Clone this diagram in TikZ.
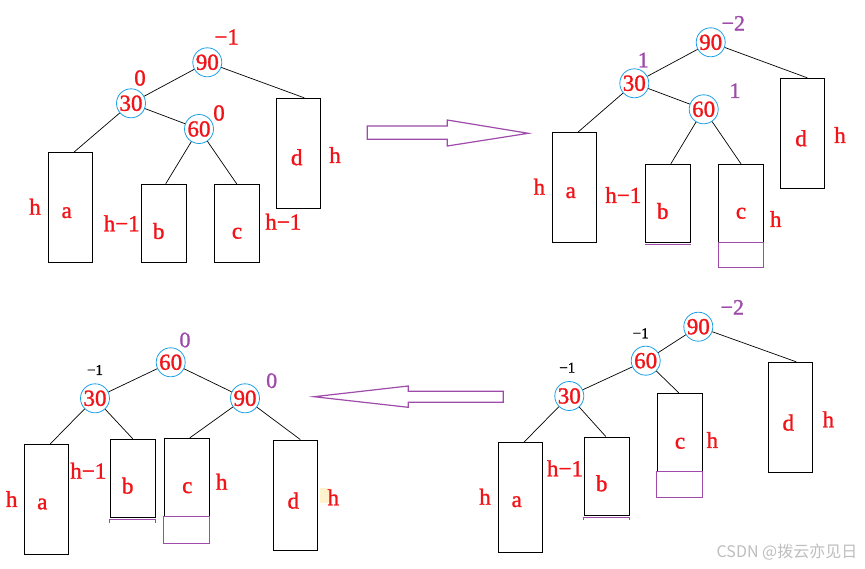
\documentclass[tikz,border=0pt]{standalone}
\usepackage{fontspec}
\setmainfont{Liberation Serif}
\newfontfamily\myheavy[FakeBold=1.2]{Liberation Serif}
\newfontfamily\mycjk{Noto Sans CJK SC}
\usetikzlibrary{calc}
\definecolor{myred}{RGB}{240,20,25}
\definecolor{mypurp}{RGB}{158,75,170}
\definecolor{myblue}{RGB}{30,160,230}
\definecolor{mygray}{RGB}{190,190,190}
\definecolor{myyel}{RGB}{255,243,205}
\newcommand\myBig{\myheavy\fontsize{23}{23}\selectfont}
\newcommand\myMid{\myheavy\fontsize{22}{22}\selectfont}
\newcommand\mySmall{\myheavy\fontsize{15}{15}\selectfont}
\tikzset{
  cnode/.style={circle, draw=myblue, line width=0.8pt, text=myred, inner sep=0pt,
    minimum size=29pt, text height=15pt, text depth=0pt, font=\myBig},
  tallbox/.style={draw=black, line width=0.9pt, inner sep=0pt, minimum width=44pt, minimum height=110pt},
  shortbox/.style={draw=black, line width=0.9pt, inner sep=0pt, minimum width=45pt, minimum height=78pt},
  lbl/.style={text=myred, inner sep=0pt, font=\myBig},
  bfred/.style={text=myred, inner sep=0pt, font=\myBig},
  bfpurp/.style={text=mypurp, inner sep=0pt, font=\myMid},
  bfblack/.style={text=black, inner sep=0pt, font=\mySmall},
  conn/.style={draw=black, line width=0.7pt},
  pline/.style={draw=mypurp, line width=1pt},
  bigarrow/.style={draw=mypurp, line width=1.2pt, line join=miter}
}
\begin{document}
\begin{tikzpicture}[x=1pt,y=-1pt]
\fill[white] (0,0) rectangle (865,568);
\useasboundingbox (0,0) rectangle (865,568);

% ---------------- Panel 1 (top-left)
\node[cnode] (p1n90) at (207.3,62.3) {90};
\node[cnode] (p1n30) at (131,103.3) {30};
\node[cnode] (p1n60) at (199,129) {60};
\node[tallbox] (p1a) at (70.3,207.3) {};
\node[shortbox] (p1b) at (163.7,223.3) {};
\node[shortbox] (p1c) at (236.7,223.3) {};
\node[tallbox] (p1d) at (298.3,153.3) {};
\draw[conn] (p1n90) -- (p1n30);
\draw[conn] (p1n90) -- ([xshift=6pt]p1d.north);
\draw[conn] (p1n30) -- ([xshift=4pt]p1a.north);
\draw[conn] (p1n30) -- (p1n60);
\draw[conn] (p1n60) -- ([xshift=2pt]p1b.north);
\draw[conn] (p1n60) -- (p1c.north);
\node[bfred] (p1f90) at (226.7,37) {−1};
\node[bfred] (p1f30) at (140,78) {0};
\node[bfred] (p1f60) at (219,113) {0};
\node[lbl] (p1ha) at (35,206.7) {h};
\node[lbl] (p1la) at (66.7,212.7) {a};
\node[lbl] (p1hb) at (121.7,223.3) {h−1};
\node[lbl] (p1lb) at (158.7,231) {b};
\node[lbl] (p1lc) at (237,233.3) {c};
\node[lbl] (p1hc) at (283.3,221.7) {h−1};
\node[lbl] (p1ld) at (296.7,157.3) {d};
\node[lbl] (p1hd) at (335,155) {h};

% ---------------- Panel 2 (top-right)
\node[cnode] (p2n90) at (710.7,42.3) {90};
\node[cnode] (p2n30) at (634.3,83.3) {30};
\node[cnode] (p2n60) at (703.7,109.3) {60};
\node[tallbox] (p2a) at (574.3,187.3) {};
\node[shortbox] (p2b) at (667.8,203.3) {};
\node[shortbox] (p2c) at (741,203.3) {};
\node[tallbox] (p2d) at (802.3,133.3) {};
\draw[conn] (p2n90) -- (p2n30);
\draw[conn] (p2n90) -- ([xshift=5pt]p2d.north);
\draw[conn] (p2n30) -- ([xshift=4pt]p2a.north);
\draw[conn] (p2n30) -- (p2n60);
\draw[conn] (p2n60) -- ([xshift=3pt]p2b.north);
\draw[conn] (p2n60) -- (p2c.north);
\draw[pline] ([yshift=-1.5pt]p2b.south west) -- ([yshift=-1.5pt]p2b.south east);
\draw[pline] (p2c.south west) rectangle ([yshift=-25pt]p2c.south east);
\node[bfpurp] (p2f90) at (733.3,23.3) {−2};
\node[bfpurp] (p2f30) at (643.3,60) {1};
\node[bfpurp] (p2f60) at (735,90.7) {1};
\node[lbl] (p2ha) at (539.3,186.7) {h};
\node[lbl] (p2la) at (570.7,192.7) {a};
\node[lbl] (p2hb) at (623.3,195) {h−1};
\node[lbl] (p2lb) at (662.7,211) {b};
\node[lbl] (p2lc) at (741,213.3) {c};
\node[lbl] (p2hc) at (775.7,219) {h};
\node[lbl] (p2ld) at (801,138.3) {d};
\node[lbl] (p2hd) at (840,135) {h};

% ---------------- Panel 3 (bottom-left)
\node[cnode] (p3n60) at (170.7,362.3) {60};
\node[cnode] (p3n30) at (95,398.3) {30};
\node[cnode] (p3n90) at (245,398.3) {90};
\node[tallbox] (p3a) at (46.3,499.3) {};
\node[shortbox] (p3b) at (132.8,478.3) {};
\node[shortbox] (p3c) at (186.8,477.3) {};
\node[tallbox] (p3d) at (295.3,495) {};
\draw[conn] (p3n60) -- (p3n30);
\draw[conn] (p3n60) -- (p3n90);
\draw[conn] (p3n30) -- ([xshift=4pt]p3a.north);
\draw[conn] (p3n30) -- (p3b.north);
\draw[conn] (p3n90) -- ([xshift=3pt]p3c.north);
\draw[conn] (p3n90) -- ([xshift=5pt]p3d.north);
\draw[pline] ([yshift=-5pt]p3b.south west) |- ([yshift=-2pt]p3b.south) -| ([yshift=-5pt]p3b.south east);
\draw[pline] (p3c.south west) rectangle ([yshift=-27pt]p3c.south east);
\fill[myyel] (320,487.7) rectangle (330,503.3);
\node[bfpurp] (p3f60) at (185,340) {0};
\node[bfblack] (p3f30) at (95,370) {−1};
\node[bfpurp] (p3f90) at (271.7,380.7) {0};
\node[lbl] (p3ha) at (11.7,499) {h};
\node[lbl] (p3la) at (42.3,504) {a};
\node[lbl] (p3hb) at (88.3,470.7) {h−1};
\node[lbl] (p3lb) at (127.7,485.7) {b};
\node[lbl] (p3lc) at (187.3,487.7) {c};
\node[lbl] (p3hc) at (221.7,481.7) {h};
\node[lbl] (p3ld) at (293.3,500.7) {d};
\node[lbl] (p3hd) at (333.3,497.3) {h};

% ---------------- Panel 4 (bottom-right)
\node[cnode] (p4n90) at (698.3,326.7) {90};
\node[cnode] (p4n60) at (645.7,360.7) {60};
\node[cnode] (p4n30) at (569.3,396) {30};
\node[tallbox] (p4a) at (520.3,497.3) {};
\node[shortbox] (p4b) at (606.8,476) {};
\node[shortbox] (p4c) at (679.8,432.3) {};
\node[tallbox] (p4d) at (790.3,417.3) {};
\draw[conn] (p4n90) -- (p4n60);
\draw[conn] (p4n90) -- ([xshift=6pt]p4d.north);
\draw[conn] (p4n60) -- (p4n30);
\draw[conn] (p4n60) -- ([xshift=-1pt]p4c.north);
\draw[conn] (p4n30) -- ([xshift=4pt]p4a.north);
\draw[conn] (p4n30) -- ([xshift=-1pt]p4b.north);
\draw[pline] ([yshift=-5pt]p4b.south west) |- ([yshift=-2pt]p4b.south) -| ([yshift=-5pt]p4b.south east);
\draw[pline] (p4c.south west) rectangle ([yshift=-26pt]p4c.south east);
\node[bfpurp] (p4f90) at (732.3,307.3) {−2};
\node[bfblack] (p4f60) at (640.7,333.3) {−1};
\node[bfblack] (p4f30) at (567.3,367.7) {−1};
\node[lbl] (p4ha) at (485,496.7) {h};
\node[lbl] (p4la) at (516.7,501.7) {a};
\node[lbl] (p4hb) at (565,468.3) {h−1};
\node[lbl] (p4lb) at (601.7,483.3) {b};
\node[lbl] (p4lc) at (680,443.3) {c};
\node[lbl] (p4hc) at (712.3,440) {h};
\node[lbl] (p4ld) at (788.3,422.7) {d};
\node[lbl] (p4hd) at (828.3,419.3) {h};

% ---------------- Hollow arrows
\draw[bigarrow] (367.3,126) -- (447.3,126) -- (447.3,120) -- (528.3,133.3) -- (447.3,146) -- (447.3,139.3) -- (367.3,139.3) -- cycle;
\draw[bigarrow] (503.3,391.3) -- (408.3,391.3) -- (408.3,386) -- (314,396.7) -- (408.3,407.3) -- (408.3,402.3) -- (503.3,402.3) -- cycle;

% ---------------- Watermark
\node[text=mygray, inner sep=0pt, font=\mycjk\fontsize{16}{16}\selectfont] (wm) at (787,552) {CSDN @拨云亦见日};
\end{tikzpicture}
\end{document}
